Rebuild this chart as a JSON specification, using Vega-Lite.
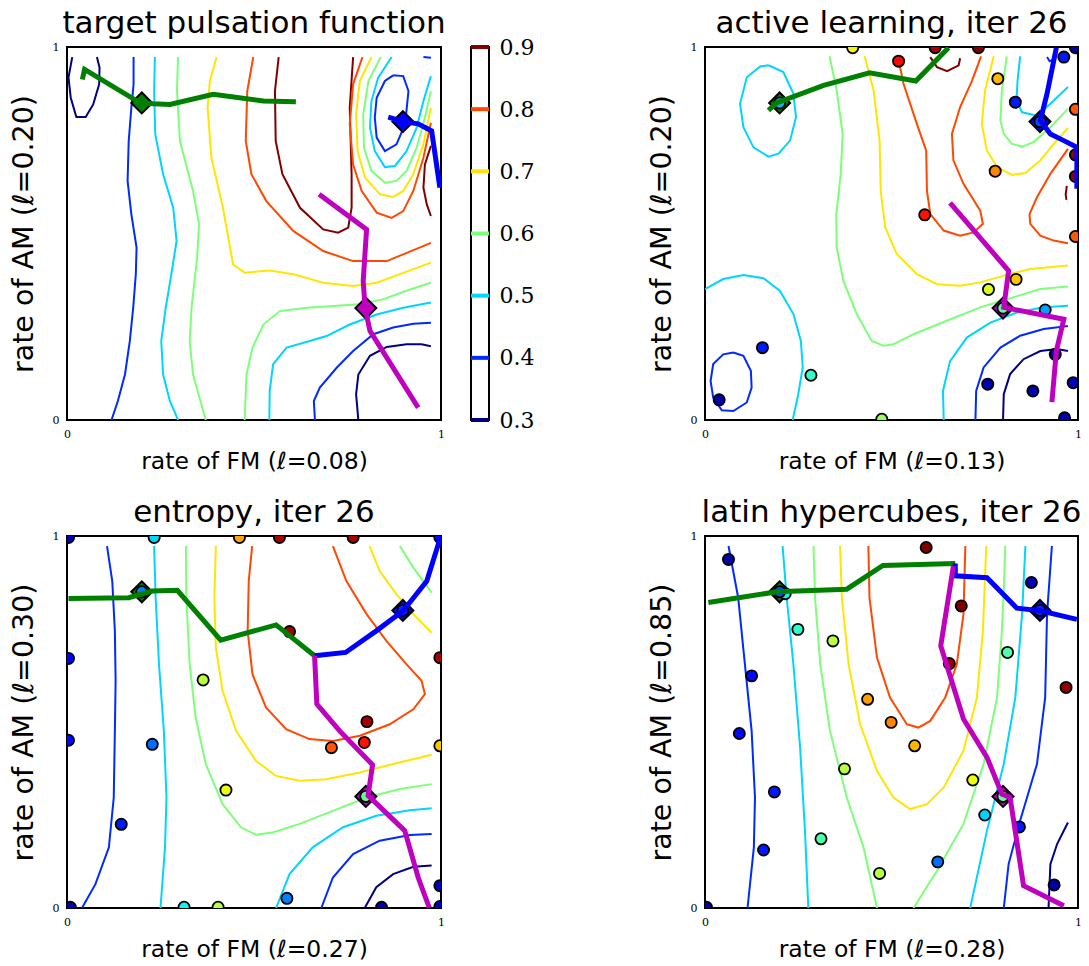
{
"$schema":"https://vega.github.io/schema/vega-lite/v6.json",
"background":"white",
"padding":{"left":8,"top":7,"right":5,"bottom":5},
"columns":3,
"bounds":"flush",
"align":"each",
"spacing":{"row":116,"column":30},
"config":{
 "view":{"stroke":"black","strokeWidth":2},
 "axis":{"grid":false,"ticks":false,"domain":false,"labelFont":"DejaVu Serif","labelFontSize":11,"labelColor":"black","titleFont":"DejaVu Sans","titleFontSize":23.5,"titleFontWeight":"normal","titleColor":"black","labelFlush":false,"labelOverlap":false},
 "axisY":{"titleFontSize":28.5,"titlePadding":14,"labelPadding":8},
 "axisX":{"titlePadding":10,"labelPadding":8},
 "title":{"font":"DejaVu Sans","fontSize":31,"fontWeight":"normal","color":"black","offset":1,"anchor":"middle"}
},
"datasets":{
"diamonds":[{"k":"g","x":0.2,"y":0.85},{"k":"b","x":0.898,"y":0.8},{"k":"m","x":0.799,"y":0.3}],
"levels":[{"v":0.3},{"v":0.4},{"v":0.5},{"v":0.6},{"v":0.7},{"v":0.8},{"v":0.9}],
"contours":[
{"p":1,"c":"1a","v":0.3,"o":0,"x":0.014,"y":0.973},{"p":1,"c":"1a","v":0.3,"o":1,"x":0.004,"y":0.918},{"p":1,"c":"1a","v":0.3,"o":2,"x":0.010,"y":0.864},{"p":1,"c":"1a","v":0.3,"o":3,"x":0.025,"y":0.812},{"p":1,"c":"1a","v":0.3,"o":4,"x":0.050,"y":0.812},{"p":1,"c":"1a","v":0.3,"o":5,"x":0.070,"y":0.846},{"p":1,"c":"1a","v":0.3,"o":6,"x":0.086,"y":0.900},{"p":1,"c":"1a","v":0.3,"o":7,"x":0.087,"y":0.945},{"p":1,"c":"1a","v":0.3,"o":8,"x":0.080,"y":0.973},
{"p":1,"c":"1b","v":0.4,"o":0,"x":0.178,"y":0.973},{"p":1,"c":"1b","v":0.4,"o":1,"x":0.178,"y":0.900},{"p":1,"c":"1b","v":0.4,"o":2,"x":0.172,"y":0.837},{"p":1,"c":"1b","v":0.4,"o":3,"x":0.165,"y":0.748},{"p":1,"c":"1b","v":0.4,"o":4,"x":0.162,"y":0.641},{"p":1,"c":"1b","v":0.4,"o":5,"x":0.172,"y":0.552},{"p":1,"c":"1b","v":0.4,"o":6,"x":0.186,"y":0.462},{"p":1,"c":"1b","v":0.4,"o":7,"x":0.184,"y":0.391},{"p":1,"c":"1b","v":0.4,"o":8,"x":0.177,"y":0.301},{"p":1,"c":"1b","v":0.4,"o":9,"x":0.168,"y":0.212},{"p":1,"c":"1b","v":0.4,"o":10,"x":0.155,"y":0.122},{"p":1,"c":"1b","v":0.4,"o":11,"x":0.136,"y":0.051},{"p":1,"c":"1b","v":0.4,"o":12,"x":0.119,"y":0.0},
{"p":1,"c":"1c","v":0.5,"o":0,"x":0.235,"y":0.973},{"p":1,"c":"1c","v":0.5,"o":1,"x":0.233,"y":0.882},{"p":1,"c":"1c","v":0.5,"o":2,"x":0.236,"y":0.766},{"p":1,"c":"1c","v":0.5,"o":3,"x":0.257,"y":0.659},{"p":1,"c":"1c","v":0.5,"o":4,"x":0.284,"y":0.569},{"p":1,"c":"1c","v":0.5,"o":5,"x":0.293,"y":0.480},{"p":1,"c":"1c","v":0.5,"o":6,"x":0.279,"y":0.391},{"p":1,"c":"1c","v":0.5,"o":7,"x":0.264,"y":0.301},{"p":1,"c":"1c","v":0.5,"o":8,"x":0.252,"y":0.212},{"p":1,"c":"1c","v":0.5,"o":9,"x":0.257,"y":0.122},{"p":1,"c":"1c","v":0.5,"o":10,"x":0.275,"y":0.051},{"p":1,"c":"1c","v":0.5,"o":11,"x":0.297,"y":0.0},
{"p":1,"c":"1d","v":0.6,"o":0,"x":0.297,"y":0.973},{"p":1,"c":"1d","v":0.6,"o":1,"x":0.294,"y":0.882},{"p":1,"c":"1d","v":0.6,"o":2,"x":0.302,"y":0.748},{"p":1,"c":"1d","v":0.6,"o":3,"x":0.337,"y":0.614},{"p":1,"c":"1d","v":0.6,"o":4,"x":0.353,"y":0.525},{"p":1,"c":"1d","v":0.6,"o":5,"x":0.348,"y":0.435},{"p":1,"c":"1d","v":0.6,"o":6,"x":0.333,"y":0.301},{"p":1,"c":"1d","v":0.6,"o":7,"x":0.328,"y":0.212},{"p":1,"c":"1d","v":0.6,"o":8,"x":0.337,"y":0.122},{"p":1,"c":"1d","v":0.6,"o":9,"x":0.371,"y":0.0},
{"p":1,"c":"1e","v":0.7,"o":0,"x":0.400,"y":0.973},{"p":1,"c":"1e","v":0.7,"o":1,"x":0.382,"y":0.909},{"p":1,"c":"1e","v":0.7,"o":2,"x":0.376,"y":0.837},{"p":1,"c":"1e","v":0.7,"o":3,"x":0.386,"y":0.703},{"p":1,"c":"1e","v":0.7,"o":4,"x":0.417,"y":0.569},{"p":1,"c":"1e","v":0.7,"o":5,"x":0.444,"y":0.417},{"p":1,"c":"1e","v":0.7,"o":6,"x":0.475,"y":0.395},{"p":1,"c":"1e","v":0.7,"o":7,"x":0.542,"y":0.401},{"p":1,"c":"1e","v":0.7,"o":8,"x":0.605,"y":0.391},{"p":1,"c":"1e","v":0.7,"o":9,"x":0.685,"y":0.368},{"p":1,"c":"1e","v":0.7,"o":10,"x":0.765,"y":0.359},{"p":1,"c":"1e","v":0.7,"o":11,"x":0.828,"y":0.368},{"p":1,"c":"1e","v":0.7,"o":12,"x":0.890,"y":0.391},{"p":1,"c":"1e","v":0.7,"o":13,"x":0.973,"y":0.422},
{"p":1,"c":"1f","v":0.8,"o":0,"x":0.498,"y":0.973},{"p":1,"c":"1f","v":0.8,"o":1,"x":0.482,"y":0.882},{"p":1,"c":"1f","v":0.8,"o":2,"x":0.478,"y":0.748},{"p":1,"c":"1f","v":0.8,"o":3,"x":0.493,"y":0.659},{"p":1,"c":"1f","v":0.8,"o":4,"x":0.533,"y":0.587},{"p":1,"c":"1f","v":0.8,"o":5,"x":0.605,"y":0.507},{"p":1,"c":"1f","v":0.8,"o":6,"x":0.685,"y":0.453},{"p":1,"c":"1f","v":0.8,"o":7,"x":0.765,"y":0.426},{"p":1,"c":"1f","v":0.8,"o":8,"x":0.855,"y":0.426},{"p":1,"c":"1f","v":0.8,"o":9,"x":0.899,"y":0.444},{"p":1,"c":"1f","v":0.8,"o":10,"x":0.973,"y":0.475},
{"p":1,"c":"1g","v":0.9,"o":0,"x":0.566,"y":0.973},{"p":1,"c":"1g","v":0.9,"o":1,"x":0.556,"y":0.882},{"p":1,"c":"1g","v":0.9,"o":2,"x":0.558,"y":0.748},{"p":1,"c":"1g","v":0.9,"o":3,"x":0.576,"y":0.659},{"p":1,"c":"1g","v":0.9,"o":4,"x":0.623,"y":0.569},{"p":1,"c":"1g","v":0.9,"o":5,"x":0.685,"y":0.511},{"p":1,"c":"1g","v":0.9,"o":6,"x":0.725,"y":0.502},{"p":1,"c":"1g","v":0.9,"o":7,"x":0.752,"y":0.516},{"p":1,"c":"1g","v":0.9,"o":8,"x":0.761,"y":0.569},{"p":1,"c":"1g","v":0.9,"o":9,"x":0.761,"y":0.659},{"p":1,"c":"1g","v":0.9,"o":10,"x":0.756,"y":0.837},{"p":1,"c":"1g","v":0.9,"o":11,"x":0.765,"y":0.973},
{"p":1,"c":"1h","v":0.4,"o":0,"x":0.872,"y":0.924},{"p":1,"c":"1h","v":0.4,"o":1,"x":0.899,"y":0.922},{"p":1,"c":"1h","v":0.4,"o":2,"x":0.913,"y":0.882},{"p":1,"c":"1h","v":0.4,"o":3,"x":0.904,"y":0.793},{"p":1,"c":"1h","v":0.4,"o":4,"x":0.881,"y":0.739},{"p":1,"c":"1h","v":0.4,"o":5,"x":0.850,"y":0.721},{"p":1,"c":"1h","v":0.4,"o":6,"x":0.828,"y":0.757},{"p":1,"c":"1h","v":0.4,"o":7,"x":0.823,"y":0.811},{"p":1,"c":"1h","v":0.4,"o":8,"x":0.828,"y":0.864},{"p":1,"c":"1h","v":0.4,"o":9,"x":0.850,"y":0.909},{"p":1,"c":"1h","v":0.4,"o":10,"x":0.872,"y":0.924},
{"p":1,"c":"1i","v":0.4,"o":0,"x":0.953,"y":0.973},{"p":1,"c":"1i","v":0.4,"o":1,"x":0.973,"y":0.971},
{"p":1,"c":"1j","v":0.5,"o":0,"x":0.868,"y":0.973},{"p":1,"c":"1j","v":0.5,"o":1,"x":0.832,"y":0.918},{"p":1,"c":"1j","v":0.5,"o":2,"x":0.814,"y":0.855},{"p":1,"c":"1j","v":0.5,"o":3,"x":0.810,"y":0.784},{"p":1,"c":"1j","v":0.5,"o":4,"x":0.823,"y":0.721},{"p":1,"c":"1j","v":0.5,"o":5,"x":0.850,"y":0.678},{"p":1,"c":"1j","v":0.5,"o":6,"x":0.877,"y":0.681},{"p":1,"c":"1j","v":0.5,"o":7,"x":0.908,"y":0.721},{"p":1,"c":"1j","v":0.5,"o":8,"x":0.935,"y":0.784},{"p":1,"c":"1j","v":0.5,"o":9,"x":0.953,"y":0.855},{"p":1,"c":"1j","v":0.5,"o":10,"x":0.973,"y":0.922},
{"p":1,"c":"1k","v":0.6,"o":0,"x":0.839,"y":0.973},{"p":1,"c":"1k","v":0.6,"o":1,"x":0.806,"y":0.909},{"p":1,"c":"1k","v":0.6,"o":2,"x":0.792,"y":0.819},{"p":1,"c":"1k","v":0.6,"o":3,"x":0.794,"y":0.730},{"p":1,"c":"1k","v":0.6,"o":4,"x":0.814,"y":0.668},{"p":1,"c":"1k","v":0.6,"o":5,"x":0.850,"y":0.636},{"p":1,"c":"1k","v":0.6,"o":6,"x":0.881,"y":0.641},{"p":1,"c":"1k","v":0.6,"o":7,"x":0.908,"y":0.668},{"p":1,"c":"1k","v":0.6,"o":8,"x":0.935,"y":0.730},{"p":1,"c":"1k","v":0.6,"o":9,"x":0.957,"y":0.811},{"p":1,"c":"1k","v":0.6,"o":10,"x":0.973,"y":0.882},
{"p":1,"c":"1l","v":0.7,"o":0,"x":0.814,"y":0.973},{"p":1,"c":"1l","v":0.7,"o":1,"x":0.783,"y":0.909},{"p":1,"c":"1l","v":0.7,"o":2,"x":0.773,"y":0.819},{"p":1,"c":"1l","v":0.7,"o":3,"x":0.777,"y":0.721},{"p":1,"c":"1l","v":0.7,"o":4,"x":0.797,"y":0.650},{"p":1,"c":"1l","v":0.7,"o":5,"x":0.837,"y":0.605},{"p":1,"c":"1l","v":0.7,"o":6,"x":0.872,"y":0.598},{"p":1,"c":"1l","v":0.7,"o":7,"x":0.899,"y":0.614},{"p":1,"c":"1l","v":0.7,"o":8,"x":0.926,"y":0.659},{"p":1,"c":"1l","v":0.7,"o":9,"x":0.953,"y":0.739},{"p":1,"c":"1l","v":0.7,"o":10,"x":0.973,"y":0.837},
{"p":1,"c":"1m","v":0.8,"o":0,"x":0.790,"y":0.973},{"p":1,"c":"1m","v":0.8,"o":1,"x":0.765,"y":0.900},{"p":1,"c":"1m","v":0.8,"o":2,"x":0.756,"y":0.793},{"p":1,"c":"1m","v":0.8,"o":3,"x":0.765,"y":0.685},{"p":1,"c":"1m","v":0.8,"o":4,"x":0.788,"y":0.614},{"p":1,"c":"1m","v":0.8,"o":5,"x":0.828,"y":0.556},{"p":1,"c":"1m","v":0.8,"o":6,"x":0.868,"y":0.542},{"p":1,"c":"1m","v":0.8,"o":7,"x":0.899,"y":0.560},{"p":1,"c":"1m","v":0.8,"o":8,"x":0.926,"y":0.614},{"p":1,"c":"1m","v":0.8,"o":9,"x":0.953,"y":0.703},{"p":1,"c":"1m","v":0.8,"o":10,"x":0.973,"y":0.797},
{"p":1,"c":"1n","v":0.9,"o":0,"x":0.973,"y":0.735},{"p":1,"c":"1n","v":0.9,"o":1,"x":0.957,"y":0.685},{"p":1,"c":"1n","v":0.9,"o":2,"x":0.953,"y":0.623},{"p":1,"c":"1n","v":0.9,"o":3,"x":0.962,"y":0.578},{"p":1,"c":"1n","v":0.9,"o":4,"x":0.973,"y":0.547},
{"p":1,"c":"1o","v":0.6,"o":0,"x":0.475,"y":0.0},{"p":1,"c":"1o","v":0.6,"o":1,"x":0.480,"y":0.122},{"p":1,"c":"1o","v":0.6,"o":2,"x":0.496,"y":0.194},{"p":1,"c":"1o","v":0.6,"o":3,"x":0.525,"y":0.256},{"p":1,"c":"1o","v":0.6,"o":4,"x":0.569,"y":0.292},{"p":1,"c":"1o","v":0.6,"o":5,"x":0.641,"y":0.301},{"p":1,"c":"1o","v":0.6,"o":6,"x":0.721,"y":0.306},{"p":1,"c":"1o","v":0.6,"o":7,"x":0.783,"y":0.310},{"p":1,"c":"1o","v":0.6,"o":8,"x":0.846,"y":0.324},{"p":1,"c":"1o","v":0.6,"o":9,"x":0.917,"y":0.350},{"p":1,"c":"1o","v":0.6,"o":10,"x":0.973,"y":0.368},
{"p":1,"c":"1p","v":0.5,"o":0,"x":0.541,"y":0.0},{"p":1,"c":"1p","v":0.5,"o":1,"x":0.542,"y":0.078},{"p":1,"c":"1p","v":0.5,"o":2,"x":0.551,"y":0.149},{"p":1,"c":"1p","v":0.5,"o":3,"x":0.587,"y":0.194},{"p":1,"c":"1p","v":0.5,"o":4,"x":0.649,"y":0.212},{"p":1,"c":"1p","v":0.5,"o":5,"x":0.694,"y":0.225},{"p":1,"c":"1p","v":0.5,"o":6,"x":0.756,"y":0.256},{"p":1,"c":"1p","v":0.5,"o":7,"x":0.828,"y":0.283},{"p":1,"c":"1p","v":0.5,"o":8,"x":0.899,"y":0.301},{"p":1,"c":"1p","v":0.5,"o":9,"x":0.973,"y":0.315},
{"p":1,"c":"1q","v":0.4,"o":0,"x":0.663,"y":0.0},{"p":1,"c":"1q","v":0.4,"o":1,"x":0.660,"y":0.051},{"p":1,"c":"1q","v":0.4,"o":2,"x":0.676,"y":0.087},{"p":1,"c":"1q","v":0.4,"o":3,"x":0.721,"y":0.140},{"p":1,"c":"1q","v":0.4,"o":4,"x":0.765,"y":0.185},{"p":1,"c":"1q","v":0.4,"o":5,"x":0.819,"y":0.230},{"p":1,"c":"1q","v":0.4,"o":6,"x":0.872,"y":0.248},{"p":1,"c":"1q","v":0.4,"o":7,"x":0.926,"y":0.258},{"p":1,"c":"1q","v":0.4,"o":8,"x":0.973,"y":0.261},
{"p":1,"c":"1r","v":0.3,"o":0,"x":0.779,"y":0.0},{"p":1,"c":"1r","v":0.3,"o":1,"x":0.773,"y":0.069},{"p":1,"c":"1r","v":0.3,"o":2,"x":0.779,"y":0.122},{"p":1,"c":"1r","v":0.3,"o":3,"x":0.810,"y":0.172},{"p":1,"c":"1r","v":0.3,"o":4,"x":0.855,"y":0.196},{"p":1,"c":"1r","v":0.3,"o":5,"x":0.908,"y":0.203},{"p":1,"c":"1r","v":0.3,"o":6,"x":0.948,"y":0.203},{"p":1,"c":"1r","v":0.3,"o":7,"x":0.973,"y":0.198},
{"p":2,"c":"2a","v":0.5,"o":0,"x":0.170,"y":0.951},{"p":2,"c":"2a","v":0.5,"o":1,"x":0.210,"y":0.933},{"p":2,"c":"2a","v":0.5,"o":2,"x":0.237,"y":0.875},{"p":2,"c":"2a","v":0.5,"o":3,"x":0.244,"y":0.812},{"p":2,"c":"2a","v":0.5,"o":4,"x":0.228,"y":0.749},{"p":2,"c":"2a","v":0.5,"o":5,"x":0.197,"y":0.714},{"p":2,"c":"2a","v":0.5,"o":6,"x":0.170,"y":0.706},{"p":2,"c":"2a","v":0.5,"o":7,"x":0.130,"y":0.731},{"p":2,"c":"2a","v":0.5,"o":8,"x":0.103,"y":0.785},{"p":2,"c":"2a","v":0.5,"o":9,"x":0.094,"y":0.848},{"p":2,"c":"2a","v":0.5,"o":10,"x":0.112,"y":0.919},{"p":2,"c":"2a","v":0.5,"o":11,"x":0.148,"y":0.948},{"p":2,"c":"2a","v":0.5,"o":12,"x":0.170,"y":0.951},
{"p":2,"c":"2b","v":0.5,"o":0,"x":0.0,"y":0.351},{"p":2,"c":"2b","v":0.5,"o":1,"x":0.049,"y":0.378},{"p":2,"c":"2b","v":0.5,"o":2,"x":0.103,"y":0.389},{"p":2,"c":"2b","v":0.5,"o":3,"x":0.157,"y":0.380},{"p":2,"c":"2b","v":0.5,"o":4,"x":0.201,"y":0.346},{"p":2,"c":"2b","v":0.5,"o":5,"x":0.237,"y":0.284},{"p":2,"c":"2b","v":0.5,"o":6,"x":0.257,"y":0.212},{"p":2,"c":"2b","v":0.5,"o":7,"x":0.262,"y":0.141},{"p":2,"c":"2b","v":0.5,"o":8,"x":0.250,"y":0.069},{"p":2,"c":"2b","v":0.5,"o":9,"x":0.235,"y":0.0},
{"p":2,"c":"2c","v":0.4,"o":0,"x":0.076,"y":0.181},{"p":2,"c":"2c","v":0.4,"o":1,"x":0.103,"y":0.172},{"p":2,"c":"2c","v":0.4,"o":2,"x":0.123,"y":0.132},{"p":2,"c":"2c","v":0.4,"o":3,"x":0.125,"y":0.087},{"p":2,"c":"2c","v":0.4,"o":4,"x":0.112,"y":0.047},{"p":2,"c":"2c","v":0.4,"o":5,"x":0.076,"y":0.024},{"p":2,"c":"2c","v":0.4,"o":6,"x":0.045,"y":0.026},{"p":2,"c":"2c","v":0.4,"o":7,"x":0.022,"y":0.060},{"p":2,"c":"2c","v":0.4,"o":8,"x":0.015,"y":0.105},{"p":2,"c":"2c","v":0.4,"o":9,"x":0.022,"y":0.150},{"p":2,"c":"2c","v":0.4,"o":10,"x":0.049,"y":0.176},{"p":2,"c":"2c","v":0.4,"o":11,"x":0.076,"y":0.181},
{"p":2,"c":"2d","v":0.6,"o":0,"x":0.334,"y":0.975},{"p":2,"c":"2d","v":0.6,"o":1,"x":0.353,"y":0.884},{"p":2,"c":"2d","v":0.6,"o":2,"x":0.369,"y":0.767},{"p":2,"c":"2d","v":0.6,"o":3,"x":0.364,"y":0.660},{"p":2,"c":"2d","v":0.6,"o":4,"x":0.352,"y":0.552},{"p":2,"c":"2d","v":0.6,"o":5,"x":0.353,"y":0.463},{"p":2,"c":"2d","v":0.6,"o":6,"x":0.371,"y":0.373},{"p":2,"c":"2d","v":0.6,"o":7,"x":0.407,"y":0.284},{"p":2,"c":"2d","v":0.6,"o":8,"x":0.447,"y":0.212},{"p":2,"c":"2d","v":0.6,"o":9,"x":0.479,"y":0.199},{"p":2,"c":"2d","v":0.6,"o":10,"x":0.505,"y":0.203},{"p":2,"c":"2d","v":0.6,"o":11,"x":0.559,"y":0.230},{"p":2,"c":"2d","v":0.6,"o":12,"x":0.648,"y":0.266},{"p":2,"c":"2d","v":0.6,"o":13,"x":0.738,"y":0.302},{"p":2,"c":"2d","v":0.6,"o":14,"x":0.827,"y":0.329},{"p":2,"c":"2d","v":0.6,"o":15,"x":0.899,"y":0.351},{"p":2,"c":"2d","v":0.6,"o":16,"x":0.973,"y":0.358},
{"p":2,"c":"2e","v":0.6,"o":0,"x":0.809,"y":0.975},{"p":2,"c":"2e","v":0.6,"o":1,"x":0.796,"y":0.884},{"p":2,"c":"2e","v":0.6,"o":2,"x":0.792,"y":0.803},{"p":2,"c":"2e","v":0.6,"o":3,"x":0.801,"y":0.767},{"p":2,"c":"2e","v":0.6,"o":4,"x":0.823,"y":0.740},{"p":2,"c":"2e","v":0.6,"o":5,"x":0.850,"y":0.733},{"p":2,"c":"2e","v":0.6,"o":6,"x":0.881,"y":0.745},{"p":2,"c":"2e","v":0.6,"o":7,"x":0.926,"y":0.785},{"p":2,"c":"2e","v":0.6,"o":8,"x":0.973,"y":0.834},
{"p":2,"c":"2f","v":0.5,"o":0,"x":0.845,"y":0.975},{"p":2,"c":"2f","v":0.5,"o":1,"x":0.838,"y":0.910},{"p":2,"c":"2f","v":0.5,"o":2,"x":0.835,"y":0.857},{"p":2,"c":"2f","v":0.5,"o":3,"x":0.850,"y":0.825},{"p":2,"c":"2f","v":0.5,"o":4,"x":0.890,"y":0.816},{"p":2,"c":"2f","v":0.5,"o":5,"x":0.926,"y":0.848},{"p":2,"c":"2f","v":0.5,"o":6,"x":0.973,"y":0.893},
{"p":2,"c":"2g","v":0.4,"o":0,"x":0.917,"y":0.973},{"p":2,"c":"2g","v":0.4,"o":1,"x":0.924,"y":0.962},{"p":2,"c":"2g","v":0.4,"o":2,"x":0.939,"y":0.968},
{"p":2,"c":"2h","v":0.7,"o":0,"x":0.428,"y":0.975},{"p":2,"c":"2h","v":0.7,"o":1,"x":0.452,"y":0.884},{"p":2,"c":"2h","v":0.7,"o":2,"x":0.468,"y":0.749},{"p":2,"c":"2h","v":0.7,"o":3,"x":0.471,"y":0.615},{"p":2,"c":"2h","v":0.7,"o":4,"x":0.483,"y":0.517},{"p":2,"c":"2h","v":0.7,"o":5,"x":0.514,"y":0.445},{"p":2,"c":"2h","v":0.7,"o":6,"x":0.568,"y":0.391},{"p":2,"c":"2h","v":0.7,"o":7,"x":0.622,"y":0.364},{"p":2,"c":"2h","v":0.7,"o":8,"x":0.684,"y":0.360},{"p":2,"c":"2h","v":0.7,"o":9,"x":0.738,"y":0.369},{"p":2,"c":"2h","v":0.7,"o":10,"x":0.801,"y":0.387},{"p":2,"c":"2h","v":0.7,"o":11,"x":0.872,"y":0.405},{"p":2,"c":"2h","v":0.7,"o":12,"x":0.973,"y":0.414},
{"p":2,"c":"2i","v":0.7,"o":0,"x":0.774,"y":0.975},{"p":2,"c":"2i","v":0.7,"o":1,"x":0.751,"y":0.884},{"p":2,"c":"2i","v":0.7,"o":2,"x":0.742,"y":0.794},{"p":2,"c":"2i","v":0.7,"o":3,"x":0.756,"y":0.722},{"p":2,"c":"2i","v":0.7,"o":4,"x":0.783,"y":0.678},{"p":2,"c":"2i","v":0.7,"o":5,"x":0.823,"y":0.657},{"p":2,"c":"2i","v":0.7,"o":6,"x":0.859,"y":0.662},{"p":2,"c":"2i","v":0.7,"o":7,"x":0.899,"y":0.696},{"p":2,"c":"2i","v":0.7,"o":8,"x":0.935,"y":0.740},{"p":2,"c":"2i","v":0.7,"o":9,"x":0.973,"y":0.783},
{"p":2,"c":"2j","v":0.8,"o":0,"x":0.517,"y":0.975},{"p":2,"c":"2j","v":0.8,"o":1,"x":0.532,"y":0.902},{"p":2,"c":"2j","v":0.8,"o":2,"x":0.568,"y":0.794},{"p":2,"c":"2j","v":0.8,"o":3,"x":0.593,"y":0.722},{"p":2,"c":"2j","v":0.8,"o":4,"x":0.595,"y":0.615},{"p":2,"c":"2j","v":0.8,"o":5,"x":0.604,"y":0.552},{"p":2,"c":"2j","v":0.8,"o":6,"x":0.640,"y":0.508},{"p":2,"c":"2j","v":0.8,"o":7,"x":0.684,"y":0.494},{"p":2,"c":"2j","v":0.8,"o":8,"x":0.720,"y":0.503},{"p":2,"c":"2j","v":0.8,"o":9,"x":0.745,"y":0.526},{"p":2,"c":"2j","v":0.8,"o":10,"x":0.738,"y":0.561},{"p":2,"c":"2j","v":0.8,"o":11,"x":0.693,"y":0.633},{"p":2,"c":"2j","v":0.8,"o":12,"x":0.666,"y":0.696},{"p":2,"c":"2j","v":0.8,"o":13,"x":0.662,"y":0.767},{"p":2,"c":"2j","v":0.8,"o":14,"x":0.684,"y":0.839},{"p":2,"c":"2j","v":0.8,"o":15,"x":0.716,"y":0.910},{"p":2,"c":"2j","v":0.8,"o":16,"x":0.740,"y":0.975},
{"p":2,"c":"2k","v":0.8,"o":0,"x":0.973,"y":0.727},{"p":2,"c":"2k","v":0.8,"o":1,"x":0.926,"y":0.660},{"p":2,"c":"2k","v":0.8,"o":2,"x":0.890,"y":0.597},{"p":2,"c":"2k","v":0.8,"o":3,"x":0.870,"y":0.552},{"p":2,"c":"2k","v":0.8,"o":4,"x":0.872,"y":0.526},{"p":2,"c":"2k","v":0.8,"o":5,"x":0.899,"y":0.494},{"p":2,"c":"2k","v":0.8,"o":6,"x":0.935,"y":0.481},{"p":2,"c":"2k","v":0.8,"o":7,"x":0.973,"y":0.474},
{"p":2,"c":"2l","v":0.9,"o":0,"x":0.604,"y":0.973},{"p":2,"c":"2l","v":0.9,"o":1,"x":0.622,"y":0.946},{"p":2,"c":"2l","v":0.9,"o":2,"x":0.649,"y":0.935},{"p":2,"c":"2l","v":0.9,"o":3,"x":0.680,"y":0.951},{"p":2,"c":"2l","v":0.9,"o":4,"x":0.684,"y":0.970},
{"p":2,"c":"2m","v":0.9,"o":0,"x":0.970,"y":0.628},{"p":2,"c":"2m","v":0.9,"o":1,"x":0.967,"y":0.605},{"p":2,"c":"2m","v":0.9,"o":2,"x":0.969,"y":0.590},
{"p":2,"c":"2n","v":0.3,"o":0,"x":0.799,"y":0.0},{"p":2,"c":"2n","v":0.3,"o":1,"x":0.801,"y":0.069},{"p":2,"c":"2n","v":0.3,"o":2,"x":0.818,"y":0.123},{"p":2,"c":"2n","v":0.3,"o":3,"x":0.854,"y":0.163},{"p":2,"c":"2n","v":0.3,"o":4,"x":0.899,"y":0.185},{"p":2,"c":"2n","v":0.3,"o":5,"x":0.944,"y":0.190},{"p":2,"c":"2n","v":0.3,"o":6,"x":0.973,"y":0.185},
{"p":2,"c":"2o","v":0.4,"o":0,"x":0.725,"y":0.0},{"p":2,"c":"2o","v":0.4,"o":1,"x":0.727,"y":0.078},{"p":2,"c":"2o","v":0.4,"o":2,"x":0.747,"y":0.141},{"p":2,"c":"2o","v":0.4,"o":3,"x":0.792,"y":0.194},{"p":2,"c":"2o","v":0.4,"o":4,"x":0.845,"y":0.226},{"p":2,"c":"2o","v":0.4,"o":5,"x":0.908,"y":0.244},{"p":2,"c":"2o","v":0.4,"o":6,"x":0.973,"y":0.252},
{"p":2,"c":"2p","v":0.5,"o":0,"x":0.640,"y":0.0},{"p":2,"c":"2p","v":0.5,"o":1,"x":0.638,"y":0.078},{"p":2,"c":"2p","v":0.5,"o":2,"x":0.657,"y":0.158},{"p":2,"c":"2p","v":0.5,"o":3,"x":0.702,"y":0.221},{"p":2,"c":"2p","v":0.5,"o":4,"x":0.765,"y":0.261},{"p":2,"c":"2p","v":0.5,"o":5,"x":0.836,"y":0.288},{"p":2,"c":"2p","v":0.5,"o":6,"x":0.908,"y":0.302},{"p":2,"c":"2p","v":0.5,"o":7,"x":0.973,"y":0.306},
{"p":3,"c":"3a","v":0.4,"o":0,"x":0.107,"y":0.973},{"p":3,"c":"3a","v":0.4,"o":1,"x":0.121,"y":0.879},{"p":3,"c":"3a","v":0.4,"o":2,"x":0.128,"y":0.745},{"p":3,"c":"3a","v":0.4,"o":3,"x":0.130,"y":0.611},{"p":3,"c":"3a","v":0.4,"o":4,"x":0.128,"y":0.476},{"p":3,"c":"3a","v":0.4,"o":5,"x":0.125,"y":0.297},{"p":3,"c":"3a","v":0.4,"o":6,"x":0.112,"y":0.163},{"p":3,"c":"3a","v":0.4,"o":7,"x":0.076,"y":0.064},{"p":3,"c":"3a","v":0.4,"o":8,"x":0.040,"y":0.0},
{"p":3,"c":"3b","v":0.5,"o":0,"x":0.233,"y":0.973},{"p":3,"c":"3b","v":0.5,"o":1,"x":0.237,"y":0.834},{"p":3,"c":"3b","v":0.5,"o":2,"x":0.246,"y":0.655},{"p":3,"c":"3b","v":0.5,"o":3,"x":0.259,"y":0.476},{"p":3,"c":"3b","v":0.5,"o":4,"x":0.266,"y":0.297},{"p":3,"c":"3b","v":0.5,"o":5,"x":0.262,"y":0.163},{"p":3,"c":"3b","v":0.5,"o":6,"x":0.250,"y":0.0},
{"p":3,"c":"3c","v":0.6,"o":0,"x":0.318,"y":0.973},{"p":3,"c":"3c","v":0.6,"o":1,"x":0.319,"y":0.834},{"p":3,"c":"3c","v":0.6,"o":2,"x":0.328,"y":0.655},{"p":3,"c":"3c","v":0.6,"o":3,"x":0.344,"y":0.512},{"p":3,"c":"3c","v":0.6,"o":4,"x":0.371,"y":0.387},{"p":3,"c":"3c","v":0.6,"o":5,"x":0.416,"y":0.279},{"p":3,"c":"3c","v":0.6,"o":6,"x":0.465,"y":0.217},{"p":3,"c":"3c","v":0.6,"o":7,"x":0.505,"y":0.197},{"p":3,"c":"3c","v":0.6,"o":8,"x":0.550,"y":0.203},{"p":3,"c":"3c","v":0.6,"o":9,"x":0.622,"y":0.226},{"p":3,"c":"3c","v":0.6,"o":10,"x":0.711,"y":0.261},{"p":3,"c":"3c","v":0.6,"o":11,"x":0.801,"y":0.297},{"p":3,"c":"3c","v":0.6,"o":12,"x":0.890,"y":0.320},{"p":3,"c":"3c","v":0.6,"o":13,"x":0.975,"y":0.333},
{"p":3,"c":"3d","v":0.6,"o":0,"x":0.890,"y":0.973},{"p":3,"c":"3d","v":0.6,"o":1,"x":0.926,"y":0.915},{"p":3,"c":"3d","v":0.6,"o":2,"x":0.975,"y":0.848},
{"p":3,"c":"3e","v":0.7,"o":0,"x":0.398,"y":0.973},{"p":3,"c":"3e","v":0.7,"o":1,"x":0.394,"y":0.834},{"p":3,"c":"3e","v":0.7,"o":2,"x":0.398,"y":0.700},{"p":3,"c":"3e","v":0.7,"o":3,"x":0.416,"y":0.584},{"p":3,"c":"3e","v":0.7,"o":4,"x":0.452,"y":0.476},{"p":3,"c":"3e","v":0.7,"o":5,"x":0.505,"y":0.396},{"p":3,"c":"3e","v":0.7,"o":6,"x":0.559,"y":0.355},{"p":3,"c":"3e","v":0.7,"o":7,"x":0.622,"y":0.342},{"p":3,"c":"3e","v":0.7,"o":8,"x":0.693,"y":0.346},{"p":3,"c":"3e","v":0.7,"o":9,"x":0.783,"y":0.364},{"p":3,"c":"3e","v":0.7,"o":10,"x":0.872,"y":0.387},{"p":3,"c":"3e","v":0.7,"o":11,"x":0.975,"y":0.412},
{"p":3,"c":"3f","v":0.7,"o":0,"x":0.809,"y":0.973},{"p":3,"c":"3f","v":0.7,"o":1,"x":0.836,"y":0.906},{"p":3,"c":"3f","v":0.7,"o":2,"x":0.881,"y":0.843},{"p":3,"c":"3f","v":0.7,"o":3,"x":0.926,"y":0.790},{"p":3,"c":"3f","v":0.7,"o":4,"x":0.975,"y":0.740},
{"p":3,"c":"3g","v":0.8,"o":0,"x":0.495,"y":0.973},{"p":3,"c":"3g","v":0.8,"o":1,"x":0.486,"y":0.879},{"p":3,"c":"3g","v":0.8,"o":2,"x":0.483,"y":0.745},{"p":3,"c":"3g","v":0.8,"o":3,"x":0.496,"y":0.628},{"p":3,"c":"3g","v":0.8,"o":4,"x":0.532,"y":0.539},{"p":3,"c":"3g","v":0.8,"o":5,"x":0.586,"y":0.481},{"p":3,"c":"3g","v":0.8,"o":6,"x":0.648,"y":0.454},{"p":3,"c":"3g","v":0.8,"o":7,"x":0.711,"y":0.449},{"p":3,"c":"3g","v":0.8,"o":8,"x":0.783,"y":0.463},{"p":3,"c":"3g","v":0.8,"o":9,"x":0.863,"y":0.494},{"p":3,"c":"3g","v":0.8,"o":10,"x":0.926,"y":0.534},{"p":3,"c":"3g","v":0.8,"o":11,"x":0.957,"y":0.575},{"p":3,"c":"3g","v":0.8,"o":12,"x":0.948,"y":0.611},{"p":3,"c":"3g","v":0.8,"o":13,"x":0.908,"y":0.655},{"p":3,"c":"3g","v":0.8,"o":14,"x":0.854,"y":0.718},{"p":3,"c":"3g","v":0.8,"o":15,"x":0.801,"y":0.790},{"p":3,"c":"3g","v":0.8,"o":16,"x":0.747,"y":0.879},{"p":3,"c":"3g","v":0.8,"o":17,"x":0.711,"y":0.973},
{"p":3,"c":"3h","v":0.5,"o":0,"x":0.559,"y":0.0},{"p":3,"c":"3h","v":0.5,"o":1,"x":0.595,"y":0.091},{"p":3,"c":"3h","v":0.5,"o":2,"x":0.657,"y":0.163},{"p":3,"c":"3h","v":0.5,"o":3,"x":0.738,"y":0.217},{"p":3,"c":"3h","v":0.5,"o":4,"x":0.827,"y":0.248},{"p":3,"c":"3h","v":0.5,"o":5,"x":0.917,"y":0.263},{"p":3,"c":"3h","v":0.5,"o":6,"x":0.975,"y":0.268},
{"p":3,"c":"3i","v":0.4,"o":0,"x":0.680,"y":0.0},{"p":3,"c":"3i","v":0.4,"o":1,"x":0.711,"y":0.082},{"p":3,"c":"3i","v":0.4,"o":2,"x":0.765,"y":0.145},{"p":3,"c":"3i","v":0.4,"o":3,"x":0.836,"y":0.181},{"p":3,"c":"3i","v":0.4,"o":4,"x":0.917,"y":0.196},{"p":3,"c":"3i","v":0.4,"o":5,"x":0.975,"y":0.199},
{"p":3,"c":"3j","v":0.3,"o":0,"x":0.796,"y":0.0},{"p":3,"c":"3j","v":0.3,"o":1,"x":0.827,"y":0.056},{"p":3,"c":"3j","v":0.3,"o":2,"x":0.872,"y":0.091},{"p":3,"c":"3j","v":0.3,"o":3,"x":0.926,"y":0.111},{"p":3,"c":"3j","v":0.3,"o":4,"x":0.975,"y":0.114},
{"p":4,"c":"4a","v":0.4,"o":0,"x":0.063,"y":0.973},{"p":4,"c":"4a","v":0.4,"o":1,"x":0.089,"y":0.834},{"p":4,"c":"4a","v":0.4,"o":2,"x":0.107,"y":0.655},{"p":4,"c":"4a","v":0.4,"o":3,"x":0.125,"y":0.476},{"p":4,"c":"4a","v":0.4,"o":4,"x":0.134,"y":0.297},{"p":4,"c":"4a","v":0.4,"o":5,"x":0.131,"y":0.163},{"p":4,"c":"4a","v":0.4,"o":6,"x":0.114,"y":0.0},
{"p":4,"c":"4b","v":0.5,"o":0,"x":0.208,"y":0.973},{"p":4,"c":"4b","v":0.5,"o":1,"x":0.219,"y":0.834},{"p":4,"c":"4b","v":0.5,"o":2,"x":0.237,"y":0.655},{"p":4,"c":"4b","v":0.5,"o":3,"x":0.255,"y":0.431},{"p":4,"c":"4b","v":0.5,"o":4,"x":0.268,"y":0.208},{"p":4,"c":"4b","v":0.5,"o":5,"x":0.277,"y":0.0},
{"p":4,"c":"4c","v":0.6,"o":0,"x":0.291,"y":0.973},{"p":4,"c":"4c","v":0.6,"o":1,"x":0.295,"y":0.834},{"p":4,"c":"4c","v":0.6,"o":2,"x":0.309,"y":0.655},{"p":4,"c":"4c","v":0.6,"o":3,"x":0.335,"y":0.476},{"p":4,"c":"4c","v":0.6,"o":4,"x":0.380,"y":0.297},{"p":4,"c":"4c","v":0.6,"o":5,"x":0.425,"y":0.163},{"p":4,"c":"4c","v":0.6,"o":6,"x":0.461,"y":0.0},
{"p":4,"c":"4d","v":0.6,"o":0,"x":0.559,"y":0.0},{"p":4,"c":"4d","v":0.6,"o":1,"x":0.622,"y":0.100},{"p":4,"c":"4d","v":0.6,"o":2,"x":0.693,"y":0.226},{"p":4,"c":"4d","v":0.6,"o":3,"x":0.747,"y":0.387},{"p":4,"c":"4d","v":0.6,"o":4,"x":0.783,"y":0.566},{"p":4,"c":"4d","v":0.6,"o":5,"x":0.796,"y":0.745},{"p":4,"c":"4d","v":0.6,"o":6,"x":0.802,"y":0.879},{"p":4,"c":"4d","v":0.6,"o":7,"x":0.805,"y":0.973},
{"p":4,"c":"4e","v":0.7,"o":0,"x":0.362,"y":0.973},{"p":4,"c":"4e","v":0.7,"o":1,"x":0.367,"y":0.834},{"p":4,"c":"4e","v":0.7,"o":2,"x":0.385,"y":0.655},{"p":4,"c":"4e","v":0.7,"o":3,"x":0.416,"y":0.494},{"p":4,"c":"4e","v":0.7,"o":4,"x":0.461,"y":0.369},{"p":4,"c":"4e","v":0.7,"o":5,"x":0.505,"y":0.297},{"p":4,"c":"4e","v":0.7,"o":6,"x":0.550,"y":0.266},{"p":4,"c":"4e","v":0.7,"o":7,"x":0.595,"y":0.279},{"p":4,"c":"4e","v":0.7,"o":8,"x":0.640,"y":0.324},{"p":4,"c":"4e","v":0.7,"o":9,"x":0.693,"y":0.423},{"p":4,"c":"4e","v":0.7,"o":10,"x":0.729,"y":0.566},{"p":4,"c":"4e","v":0.7,"o":11,"x":0.745,"y":0.745},{"p":4,"c":"4e","v":0.7,"o":12,"x":0.754,"y":0.973},
{"p":4,"c":"4f","v":0.8,"o":0,"x":0.438,"y":0.973},{"p":4,"c":"4f","v":0.8,"o":1,"x":0.441,"y":0.834},{"p":4,"c":"4f","v":0.8,"o":2,"x":0.461,"y":0.673},{"p":4,"c":"4f","v":0.8,"o":3,"x":0.496,"y":0.566},{"p":4,"c":"4f","v":0.8,"o":4,"x":0.541,"y":0.494},{"p":4,"c":"4f","v":0.8,"o":5,"x":0.572,"y":0.485},{"p":4,"c":"4f","v":0.8,"o":6,"x":0.604,"y":0.503},{"p":4,"c":"4f","v":0.8,"o":7,"x":0.644,"y":0.566},{"p":4,"c":"4f","v":0.8,"o":8,"x":0.675,"y":0.655},{"p":4,"c":"4f","v":0.8,"o":9,"x":0.693,"y":0.790},{"p":4,"c":"4f","v":0.8,"o":10,"x":0.698,"y":0.973},
{"p":4,"c":"4g","v":0.5,"o":0,"x":0.859,"y":0.973},{"p":4,"c":"4g","v":0.5,"o":1,"x":0.850,"y":0.790},{"p":4,"c":"4g","v":0.5,"o":2,"x":0.832,"y":0.566},{"p":4,"c":"4g","v":0.5,"o":3,"x":0.801,"y":0.387},{"p":4,"c":"4g","v":0.5,"o":4,"x":0.756,"y":0.208},{"p":4,"c":"4g","v":0.5,"o":5,"x":0.711,"y":0.0},
{"p":4,"c":"4h","v":0.4,"o":0,"x":0.930,"y":0.973},{"p":4,"c":"4h","v":0.4,"o":1,"x":0.917,"y":0.790},{"p":4,"c":"4h","v":0.4,"o":2,"x":0.912,"y":0.566},{"p":4,"c":"4h","v":0.4,"o":3,"x":0.890,"y":0.387},{"p":4,"c":"4h","v":0.4,"o":4,"x":0.845,"y":0.235},{"p":4,"c":"4h","v":0.4,"o":5,"x":0.814,"y":0.118},{"p":4,"c":"4h","v":0.4,"o":6,"x":0.801,"y":0.0},
{"p":4,"c":"4i","v":0.3,"o":0,"x":0.973,"y":0.230},{"p":4,"c":"4i","v":0.3,"o":1,"x":0.944,"y":0.172},{"p":4,"c":"4i","v":0.3,"o":2,"x":0.926,"y":0.118},{"p":4,"c":"4i","v":0.3,"o":3,"x":0.921,"y":0.0}
],
"paths":[
{"p":1,"k":"g","o":0,"x":0.041,"y":0.913},{"p":1,"k":"g","o":1,"x":0.047,"y":0.940},{"p":1,"k":"g","o":2,"x":0.194,"y":0.851},{"p":1,"k":"g","o":3,"x":0.230,"y":0.848},{"p":1,"k":"g","o":4,"x":0.275,"y":0.846},{"p":1,"k":"g","o":5,"x":0.391,"y":0.873},{"p":1,"k":"g","o":6,"x":0.525,"y":0.855},{"p":1,"k":"g","o":7,"x":0.612,"y":0.853},
{"p":1,"k":"b","o":0,"x":0.859,"y":0.812},{"p":1,"k":"b","o":1,"x":0.899,"y":0.800},{"p":1,"k":"b","o":2,"x":0.939,"y":0.794},{"p":1,"k":"b","o":3,"x":0.975,"y":0.775},{"p":1,"k":"b","o":4,"x":0.997,"y":0.623},
{"p":1,"k":"m","o":0,"x":0.674,"y":0.605},{"p":1,"k":"m","o":1,"x":0.801,"y":0.511},{"p":1,"k":"m","o":2,"x":0.792,"y":0.373},{"p":1,"k":"m","o":3,"x":0.797,"y":0.301},{"p":1,"k":"m","o":4,"x":0.810,"y":0.239},{"p":1,"k":"m","o":5,"x":0.939,"y":0.033},
{"p":2,"k":"g","o":0,"x":0.170,"y":0.830},{"p":2,"k":"g","o":1,"x":0.192,"y":0.850},{"p":2,"k":"g","o":2,"x":0.318,"y":0.897},{"p":2,"k":"g","o":3,"x":0.441,"y":0.931},{"p":2,"k":"g","o":4,"x":0.565,"y":0.909},{"p":2,"k":"g","o":5,"x":0.653,"y":0.998},
{"p":2,"k":"b","o":0,"x":0.942,"y":0.998},{"p":2,"k":"b","o":1,"x":0.917,"y":0.875},{"p":2,"k":"b","o":2,"x":0.899,"y":0.803},{"p":2,"k":"b","o":3,"x":0.926,"y":0.767},{"p":2,"k":"b","o":4,"x":0.962,"y":0.749},{"p":2,"k":"b","o":5,"x":0.997,"y":0.731},{"p":2,"k":"b","o":6,"x":0.997,"y":0.620},
{"p":2,"k":"m","o":0,"x":0.657,"y":0.582},{"p":2,"k":"m","o":1,"x":0.814,"y":0.400},{"p":2,"k":"m","o":2,"x":0.801,"y":0.302},{"p":2,"k":"m","o":3,"x":0.962,"y":0.270},{"p":2,"k":"m","o":4,"x":0.942,"y":0.185},{"p":2,"k":"m","o":5,"x":0.930,"y":0.048},
{"p":3,"k":"g","o":0,"x":0.004,"y":0.832},{"p":3,"k":"g","o":1,"x":0.165,"y":0.834},{"p":3,"k":"g","o":2,"x":0.228,"y":0.852},{"p":3,"k":"g","o":3,"x":0.295,"y":0.854},{"p":3,"k":"g","o":4,"x":0.411,"y":0.720},{"p":3,"k":"g","o":5,"x":0.559,"y":0.761},{"p":3,"k":"g","o":6,"x":0.662,"y":0.678},
{"p":3,"k":"b","o":0,"x":0.662,"y":0.678},{"p":3,"k":"b","o":1,"x":0.745,"y":0.687},{"p":3,"k":"b","o":2,"x":0.827,"y":0.745},{"p":3,"k":"b","o":3,"x":0.899,"y":0.799},{"p":3,"k":"b","o":4,"x":0.962,"y":0.879},{"p":3,"k":"b","o":5,"x":0.997,"y":0.991},
{"p":3,"k":"m","o":0,"x":0.662,"y":0.678},{"p":3,"k":"m","o":1,"x":0.668,"y":0.548},{"p":3,"k":"m","o":2,"x":0.729,"y":0.476},{"p":3,"k":"m","o":3,"x":0.817,"y":0.385},{"p":3,"k":"m","o":4,"x":0.805,"y":0.302},{"p":3,"k":"m","o":5,"x":0.903,"y":0.208},{"p":3,"k":"m","o":6,"x":0.939,"y":0.082},{"p":3,"k":"m","o":7,"x":0.969,"y":0.0},
{"p":4,"k":"g","o":0,"x":0.009,"y":0.821},{"p":4,"k":"g","o":1,"x":0.192,"y":0.850},{"p":4,"k":"g","o":2,"x":0.380,"y":0.857},{"p":4,"k":"g","o":3,"x":0.477,"y":0.921},{"p":4,"k":"g","o":4,"x":0.671,"y":0.926},
{"p":4,"k":"b","o":0,"x":0.671,"y":0.926},{"p":4,"k":"b","o":1,"x":0.671,"y":0.893},{"p":4,"k":"b","o":2,"x":0.756,"y":0.888},{"p":4,"k":"b","o":3,"x":0.836,"y":0.806},{"p":4,"k":"b","o":4,"x":0.899,"y":0.799},{"p":4,"k":"b","o":5,"x":0.997,"y":0.776},
{"p":4,"k":"m","o":0,"x":0.666,"y":0.919},{"p":4,"k":"m","o":1,"x":0.632,"y":0.705},{"p":4,"k":"m","o":2,"x":0.693,"y":0.508},{"p":4,"k":"m","o":3,"x":0.756,"y":0.405},{"p":4,"k":"m","o":4,"x":0.796,"y":0.306},{"p":4,"k":"m","o":5,"x":0.818,"y":0.297},{"p":4,"k":"m","o":6,"x":0.854,"y":0.060},{"p":4,"k":"m","o":7,"x":0.962,"y":0.006}
],
"points":[
{"p":2,"x":0.396,"y":0.998,"v":0.69},{"p":2,"x":0.617,"y":0.998,"v":0.88},{"p":2,"x":0.733,"y":0.998,"v":0.9},{"p":2,"x":0.993,"y":0.998,"v":0.32},{"p":2,"x":0.519,"y":0.962,"v":0.84},{"p":2,"x":0.962,"y":0.973,"v":0.39},{"p":2,"x":0.785,"y":0.915,"v":0.73},{"p":2,"x":0.832,"y":0.852,"v":0.39},{"p":2,"x":0.993,"y":0.833,"v":0.79},{"p":2,"x":0.993,"y":0.711,"v":0.89},{"p":2,"x":0.993,"y":0.653,"v":0.89},{"p":2,"x":0.778,"y":0.667,"v":0.76},{"p":2,"x":0.589,"y":0.55,"v":0.835},{"p":2,"x":0.993,"y":0.492,"v":0.79},{"p":2,"x":0.834,"y":0.377,"v":0.72},{"p":2,"x":0.76,"y":0.35,"v":0.67},{"p":2,"x":0.912,"y":0.295,"v":0.47},{"p":2,"x":0.154,"y":0.194,"v":0.39},{"p":2,"x":0.284,"y":0.12,"v":0.545},{"p":2,"x":0.038,"y":0.054,"v":0.32},{"p":2,"x":0.474,"y":0.002,"v":0.62},{"p":2,"x":0.939,"y":0.176,"v":0.32},{"p":2,"x":0.758,"y":0.096,"v":0.33},{"p":2,"x":0.879,"y":0.078,"v":0.32},{"p":2,"x":0.987,"y":0.1,"v":0.33},{"p":2,"x":0.964,"y":0.006,"v":0.32},{"p":2,"x":0.2,"y":0.85,"v":0.48},{"p":2,"x":0.898,"y":0.8,"v":0.42},{"p":2,"x":0.799,"y":0.3,"v":0.58},
{"p":3,"x":0.004,"y":0.996,"v":0.33},{"p":3,"x":0.233,"y":0.996,"v":0.5},{"p":3,"x":0.461,"y":0.996,"v":0.74},{"p":3,"x":0.568,"y":0.996,"v":0.88},{"p":3,"x":0.765,"y":0.996,"v":0.88},{"p":3,"x":0.997,"y":0.996,"v":0.38},{"p":3,"x":0.004,"y":0.671,"v":0.37},{"p":3,"x":0.004,"y":0.451,"v":0.38},{"p":3,"x":0.997,"y":0.673,"v":0.88},{"p":3,"x":0.997,"y":0.436,"v":0.72},{"p":3,"x":0.997,"y":0.06,"v":0.33},{"p":3,"x":0.997,"y":0.004,"v":0.33},{"p":3,"x":0.009,"y":0.002,"v":0.33},{"p":3,"x":0.313,"y":0.002,"v":0.52},{"p":3,"x":0.404,"y":0.002,"v":0.64},{"p":3,"x":0.841,"y":0.002,"v":0.32},{"p":3,"x":0.595,"y":0.743,"v":0.88},{"p":3,"x":0.364,"y":0.613,"v":0.645},{"p":3,"x":0.228,"y":0.44,"v":0.44},{"p":3,"x":0.802,"y":0.501,"v":0.88},{"p":3,"x":0.795,"y":0.445,"v":0.835},{"p":3,"x":0.707,"y":0.431,"v":0.79},{"p":3,"x":0.425,"y":0.317,"v":0.68},{"p":3,"x":0.145,"y":0.225,"v":0.39},{"p":3,"x":0.588,"y":0.026,"v":0.45},{"p":3,"x":0.2,"y":0.85,"v":0.45},{"p":3,"x":0.898,"y":0.8,"v":0.4},{"p":3,"x":0.799,"y":0.3,"v":0.58},
{"p":4,"x":0.063,"y":0.937,"v":0.32},{"p":4,"x":0.593,"y":0.969,"v":0.9},{"p":4,"x":0.875,"y":0.875,"v":0.33},{"p":4,"x":0.215,"y":0.845,"v":0.52},{"p":4,"x":0.687,"y":0.812,"v":0.9},{"p":4,"x":0.249,"y":0.749,"v":0.54},{"p":4,"x":0.343,"y":0.718,"v":0.645},{"p":4,"x":0.811,"y":0.687,"v":0.565},{"p":4,"x":0.655,"y":0.657,"v":0.89},{"p":4,"x":0.125,"y":0.624,"v":0.38},{"p":4,"x":0.968,"y":0.593,"v":0.89},{"p":4,"x":0.436,"y":0.561,"v":0.745},{"p":4,"x":0.499,"y":0.499,"v":0.76},{"p":4,"x":0.092,"y":0.469,"v":0.38},{"p":4,"x":0.562,"y":0.436,"v":0.73},{"p":4,"x":0.374,"y":0.374,"v":0.645},{"p":4,"x":0.186,"y":0.312,"v":0.39},{"p":4,"x":0.718,"y":0.344,"v":0.68},{"p":4,"x":0.75,"y":0.25,"v":0.5},{"p":4,"x":0.843,"y":0.218,"v":0.39},{"p":4,"x":0.311,"y":0.186,"v":0.565},{"p":4,"x":0.157,"y":0.156,"v":0.39},{"p":4,"x":0.624,"y":0.124,"v":0.44},{"p":4,"x":0.468,"y":0.093,"v":0.64},{"p":4,"x":0.936,"y":0.062,"v":0.32},{"p":4,"x":0.004,"y":0.002,"v":0.32},{"p":4,"x":0.2,"y":0.85,"v":0.42},{"p":4,"x":0.898,"y":0.8,"v":0.4},{"p":4,"x":0.799,"y":0.3,"v":0.58}
]
},
"concat":[
{"width":374,"height":373,"title":"target pulsation function",
 "layer":[
  {"data":{"name":"contours"},"transform":[{"filter":"datum.p==1"}],"mark":{"type":"line","strokeWidth":2,"clip":true},
   "encoding":{"x":{"field":"x","type":"quantitative","scale":{"domain":[0,1],"nice":false,"zero":false},"axis":{"values":[0,1],"format":"d","title":"rate of FM (ℓ=0.08)"}},
    "y":{"field":"y","type":"quantitative","scale":{"domain":[0,1],"nice":false,"zero":false},"axis":{"values":[0,1],"format":"d","title":"rate of AM (ℓ=0.20)"}},
    "detail":{"field":"c"},"order":{"field":"o","type":"quantitative"},
    "stroke":{"field":"v","type":"quantitative","legend":null,"scale":{"type":"linear","interpolate":"rgb","domain":[0.3,0.366,0.375,0.504,0.525,0.6,0.684,0.696,0.834,0.846,0.9],"range":["#000080","#0000ff","#0000ff","#00dbff","#14ffe3","#7dff7a","#eeff08","#ffec00","#ff1300","#e80000","#800000"]}}}},
  {"data":{"name":"diamonds"},"mark":{"type":"point","shape":"diamond","filled":true,"size":440,"stroke":"black","strokeWidth":2,"opacity":1},
   "encoding":{"x":{"field":"x","type":"quantitative"},"y":{"field":"y","type":"quantitative"},"color":{"field":"k","type":"nominal","legend":null,"scale":{"domain":["g","b","m"],"range":["#008000","#0000ff","#bf00bf"]}}}},
  {"data":{"name":"paths"},"transform":[{"filter":"datum.p==1"}],"mark":{"type":"line","strokeWidth":5,"clip":true},
   "encoding":{"x":{"field":"x","type":"quantitative"},"y":{"field":"y","type":"quantitative"},"order":{"field":"o","type":"quantitative"},"color":{"field":"k","type":"nominal","legend":null,"scale":{"domain":["g","b","m"],"range":["#008000","#0000ff","#bf00bf"]}}}}
 ]},
{"width":18,"height":373,"data":{"name":"levels"},"mark":{"type":"rule","strokeWidth":4},
 "encoding":{"y":{"field":"v","type":"quantitative","scale":{"domain":[0.3,0.9],"nice":false,"zero":false},"axis":{"orient":"right","values":[0.3,0.4,0.5,0.6,0.7,0.8,0.9],"format":".1f","title":null,"labelFont":"DejaVu Serif","labelFontSize":22,"labelPadding":17,"ticks":true,"tickSize":-7,"tickColor":"black","tickWidth":1}},
  "stroke":{"field":"v","type":"quantitative","legend":null,"scale":{"type":"linear","interpolate":"rgb","domain":[0.3,0.366,0.375,0.504,0.525,0.6,0.684,0.696,0.834,0.846,0.9],"range":["#000080","#0000ff","#0000ff","#00dbff","#14ffe3","#7dff7a","#eeff08","#ffec00","#ff1300","#e80000","#800000"]}}}},
{"width":373,"height":373,"title":"active learning, iter 26",
 "layer":[
  {"data":{"name":"contours"},"transform":[{"filter":"datum.p==2"}],"mark":{"type":"line","strokeWidth":2,"clip":true},
   "encoding":{"x":{"field":"x","type":"quantitative","scale":{"domain":[0,1],"nice":false,"zero":false},"axis":{"values":[0,1],"format":"d","title":"rate of FM (ℓ=0.13)"}},
    "y":{"field":"y","type":"quantitative","scale":{"domain":[0,1],"nice":false,"zero":false},"axis":{"values":[0,1],"format":"d","title":"rate of AM (ℓ=0.20)"}},
    "detail":{"field":"c"},"order":{"field":"o","type":"quantitative"},
    "stroke":{"field":"v","type":"quantitative","legend":null,"scale":{"type":"linear","interpolate":"rgb","domain":[0.3,0.366,0.375,0.504,0.525,0.6,0.684,0.696,0.834,0.846,0.9],"range":["#000080","#0000ff","#0000ff","#00dbff","#14ffe3","#7dff7a","#eeff08","#ffec00","#ff1300","#e80000","#800000"]}}}},
  {"data":{"name":"diamonds"},"mark":{"type":"point","shape":"diamond","filled":true,"size":440,"stroke":"black","strokeWidth":2,"opacity":1},
   "encoding":{"x":{"field":"x","type":"quantitative"},"y":{"field":"y","type":"quantitative"},"color":{"field":"k","type":"nominal","legend":null,"scale":{"domain":["g","b","m"],"range":["#008000","#0000ff","#bf00bf"]}}}},
  {"data":{"name":"points"},"transform":[{"filter":"datum.p==2"}],"mark":{"type":"circle","size":125,"stroke":"black","strokeWidth":1.8,"opacity":1,"clip":true},
   "encoding":{"x":{"field":"x","type":"quantitative"},"y":{"field":"y","type":"quantitative"},"fill":{"field":"v","type":"quantitative","legend":null,"scale":{"type":"linear","interpolate":"rgb","domain":[0.3,0.366,0.375,0.504,0.525,0.6,0.684,0.696,0.834,0.846,0.9],"range":["#000080","#0000ff","#0000ff","#00dbff","#14ffe3","#7dff7a","#eeff08","#ffec00","#ff1300","#e80000","#800000"]}}}},
  {"data":{"name":"paths"},"transform":[{"filter":"datum.p==2"}],"mark":{"type":"line","strokeWidth":5,"clip":true},
   "encoding":{"x":{"field":"x","type":"quantitative"},"y":{"field":"y","type":"quantitative"},"order":{"field":"o","type":"quantitative"},"color":{"field":"k","type":"nominal","legend":null,"scale":{"domain":["g","b","m"],"range":["#008000","#0000ff","#bf00bf"]}}}}
 ]},
{"width":374,"height":372,"title":"entropy, iter 26",
 "layer":[
  {"data":{"name":"contours"},"transform":[{"filter":"datum.p==3"}],"mark":{"type":"line","strokeWidth":2,"clip":true},
   "encoding":{"x":{"field":"x","type":"quantitative","scale":{"domain":[0,1],"nice":false,"zero":false},"axis":{"values":[0,1],"format":"d","title":"rate of FM (ℓ=0.27)"}},
    "y":{"field":"y","type":"quantitative","scale":{"domain":[0,1],"nice":false,"zero":false},"axis":{"values":[0,1],"format":"d","title":"rate of AM (ℓ=0.30)"}},
    "detail":{"field":"c"},"order":{"field":"o","type":"quantitative"},
    "stroke":{"field":"v","type":"quantitative","legend":null,"scale":{"type":"linear","interpolate":"rgb","domain":[0.3,0.366,0.375,0.504,0.525,0.6,0.684,0.696,0.834,0.846,0.9],"range":["#000080","#0000ff","#0000ff","#00dbff","#14ffe3","#7dff7a","#eeff08","#ffec00","#ff1300","#e80000","#800000"]}}}},
  {"data":{"name":"diamonds"},"mark":{"type":"point","shape":"diamond","filled":true,"size":440,"stroke":"black","strokeWidth":2,"opacity":1},
   "encoding":{"x":{"field":"x","type":"quantitative"},"y":{"field":"y","type":"quantitative"},"color":{"field":"k","type":"nominal","legend":null,"scale":{"domain":["g","b","m"],"range":["#008000","#0000ff","#bf00bf"]}}}},
  {"data":{"name":"points"},"transform":[{"filter":"datum.p==3"}],"mark":{"type":"circle","size":125,"stroke":"black","strokeWidth":1.8,"opacity":1,"clip":true},
   "encoding":{"x":{"field":"x","type":"quantitative"},"y":{"field":"y","type":"quantitative"},"fill":{"field":"v","type":"quantitative","legend":null,"scale":{"type":"linear","interpolate":"rgb","domain":[0.3,0.366,0.375,0.504,0.525,0.6,0.684,0.696,0.834,0.846,0.9],"range":["#000080","#0000ff","#0000ff","#00dbff","#14ffe3","#7dff7a","#eeff08","#ffec00","#ff1300","#e80000","#800000"]}}}},
  {"data":{"name":"paths"},"transform":[{"filter":"datum.p==3"}],"mark":{"type":"line","strokeWidth":5,"clip":true},
   "encoding":{"x":{"field":"x","type":"quantitative"},"y":{"field":"y","type":"quantitative"},"order":{"field":"o","type":"quantitative"},"color":{"field":"k","type":"nominal","legend":null,"scale":{"domain":["g","b","m"],"range":["#008000","#0000ff","#bf00bf"]}}}}
 ]},
{"width":204,"height":372,"data":{"values":[]},"mark":"point","view":{"stroke":null}},
{"width":373,"height":372,"title":"latin hypercubes, iter 26",
 "layer":[
  {"data":{"name":"contours"},"transform":[{"filter":"datum.p==4"}],"mark":{"type":"line","strokeWidth":2,"clip":true},
   "encoding":{"x":{"field":"x","type":"quantitative","scale":{"domain":[0,1],"nice":false,"zero":false},"axis":{"values":[0,1],"format":"d","title":"rate of FM (ℓ=0.28)"}},
    "y":{"field":"y","type":"quantitative","scale":{"domain":[0,1],"nice":false,"zero":false},"axis":{"values":[0,1],"format":"d","title":"rate of AM (ℓ=0.85)"}},
    "detail":{"field":"c"},"order":{"field":"o","type":"quantitative"},
    "stroke":{"field":"v","type":"quantitative","legend":null,"scale":{"type":"linear","interpolate":"rgb","domain":[0.3,0.366,0.375,0.504,0.525,0.6,0.684,0.696,0.834,0.846,0.9],"range":["#000080","#0000ff","#0000ff","#00dbff","#14ffe3","#7dff7a","#eeff08","#ffec00","#ff1300","#e80000","#800000"]}}}},
  {"data":{"name":"diamonds"},"mark":{"type":"point","shape":"diamond","filled":true,"size":440,"stroke":"black","strokeWidth":2,"opacity":1},
   "encoding":{"x":{"field":"x","type":"quantitative"},"y":{"field":"y","type":"quantitative"},"color":{"field":"k","type":"nominal","legend":null,"scale":{"domain":["g","b","m"],"range":["#008000","#0000ff","#bf00bf"]}}}},
  {"data":{"name":"points"},"transform":[{"filter":"datum.p==4"}],"mark":{"type":"circle","size":125,"stroke":"black","strokeWidth":1.8,"opacity":1,"clip":true},
   "encoding":{"x":{"field":"x","type":"quantitative"},"y":{"field":"y","type":"quantitative"},"fill":{"field":"v","type":"quantitative","legend":null,"scale":{"type":"linear","interpolate":"rgb","domain":[0.3,0.366,0.375,0.504,0.525,0.6,0.684,0.696,0.834,0.846,0.9],"range":["#000080","#0000ff","#0000ff","#00dbff","#14ffe3","#7dff7a","#eeff08","#ffec00","#ff1300","#e80000","#800000"]}}}},
  {"data":{"name":"paths"},"transform":[{"filter":"datum.p==4"}],"mark":{"type":"line","strokeWidth":5,"clip":true},
   "encoding":{"x":{"field":"x","type":"quantitative"},"y":{"field":"y","type":"quantitative"},"order":{"field":"o","type":"quantitative"},"color":{"field":"k","type":"nominal","legend":null,"scale":{"domain":["g","b","m"],"range":["#008000","#0000ff","#bf00bf"]}}}}
 ]}
]
}
